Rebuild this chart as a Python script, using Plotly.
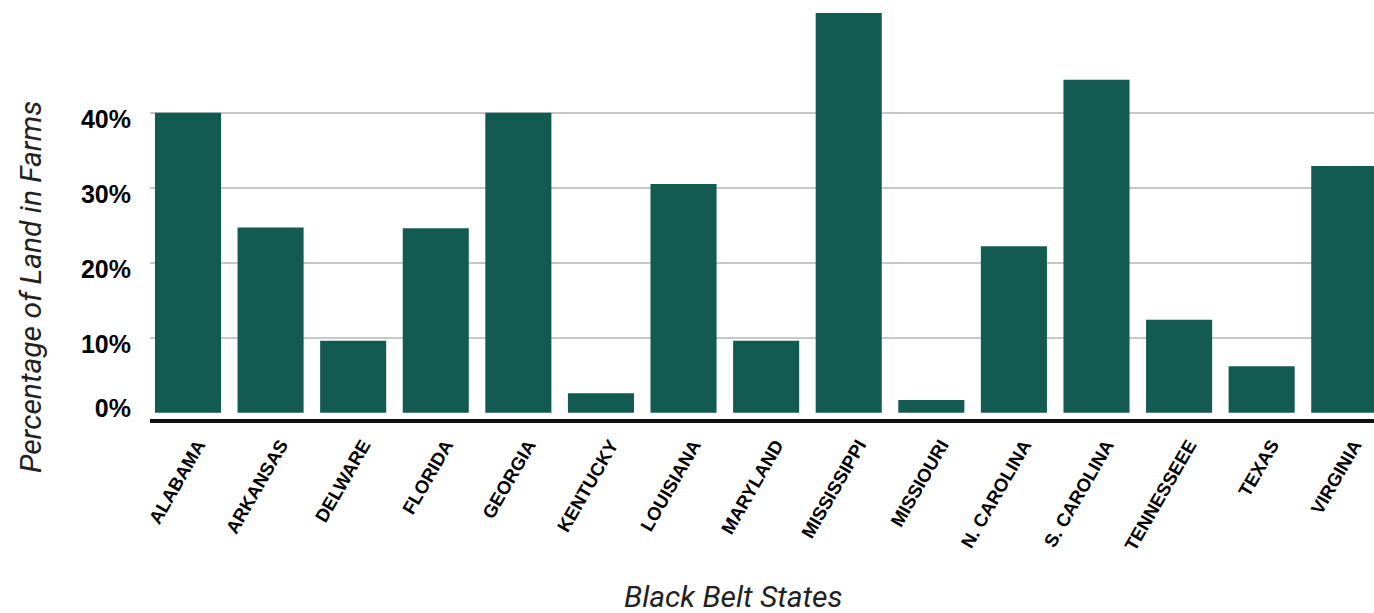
import plotly.graph_objects as go

states = ["ALABAMA", "ARKANSAS", "DELWARE", "FLORIDA", "GEORGIA", "KENTUCKY", "LOUISIANA",
          "MARYLAND", "MISSISSIPPI", "MISSIOURI", "N. CAROLINA", "S. CAROLINA", "TENNESSEEE",
          "TEXAS", "VIRGINIA"]
pct_land_in_farms = [40.0, 24.7, 9.6, 24.6, 40.0, 2.6, 30.5, 9.6, 53.3, 1.7, 22.2, 44.4, 12.4, 6.2, 32.9]
grid_ticks = [10, 20, 30, 40]
grid_tick_labels = ["10%", "20%", "30%", "40%"]
zero_tick = [0]
zero_tick_label = ["0%"]

BAR = "#135B51"
yr = [-0.84, 55.03]
TICKFONT = "Liberation Sans"

fig = go.Figure()
fig.add_trace(go.Bar(x=states, y=pct_land_in_farms, marker=dict(color=BAR, line=dict(width=0)),
                     yaxis="y", hoverinfo="x+y"))
fig.add_trace(go.Scatter(x=states, y=pct_land_in_farms, mode="markers", marker=dict(opacity=0),
                         yaxis="y2", hoverinfo="skip", showlegend=False))

fig.update_layout(
    width=1374, height=613,
    margin=dict(l=150, r=0, t=0, b=194),
    plot_bgcolor="white", paper_bgcolor="white",
    bargap=0.2, showlegend=False,
    font=dict(family="Roboto", color="#000"),
    xaxis=dict(range=[-0.46, 14.36], tickangle=-60, showgrid=False, zeroline=False,
               showline=True, linecolor="#111", linewidth=4, ticks="",
               ticklabelstandoff=4, ticklabelshift=10,
               tickfont=dict(family=TICKFONT, size=18.5, weight="bold", color="#000")),
    yaxis=dict(range=yr, tickvals=grid_ticks, ticktext=grid_tick_labels, showgrid=True,
               gridcolor="#c8c8c8", gridwidth=2, zeroline=False, showline=False, ticks="",
               ticklabelshift=7, ticklabelstandoff=18,
               tickfont=dict(family=TICKFONT, size=25, weight="bold", color="#000")),
    yaxis2=dict(range=yr, overlaying="y", side="left", tickvals=zero_tick, ticktext=zero_tick_label,
                showgrid=False, zeroline=False, showline=False, ticks="",
                ticklabelshift=-4, ticklabelstandoff=18,
                tickfont=dict(family=TICKFONT, size=25, weight="bold", color="#000")),
    annotations=[
        dict(text="Percentage of Land in Farms", textangle=-90, x=30, xref="paper", y=0.5,
             yref="paper", showarrow=False, font=dict(family="Roboto", size=30, color="#222", style="italic")),
        dict(text="Black Belt States", x=0.5, xref="paper", y=0, yref="paper", showarrow=False,
             font=dict(family="Roboto", size=30, color="#222", style="italic")),
    ],
)

plot_w = 1374 - 150
plot_h = 613 - 194
fig.layout.annotations[0].update(x=(30 - 150) / plot_w, y=(419 - 287) / plot_h, xanchor="center", yanchor="middle")
fig.layout.annotations[1].update(x=(733 - 150) / plot_w, y=(419 - 596) / plot_h, xanchor="center", yanchor="middle")

fig.write_html("out.html")
